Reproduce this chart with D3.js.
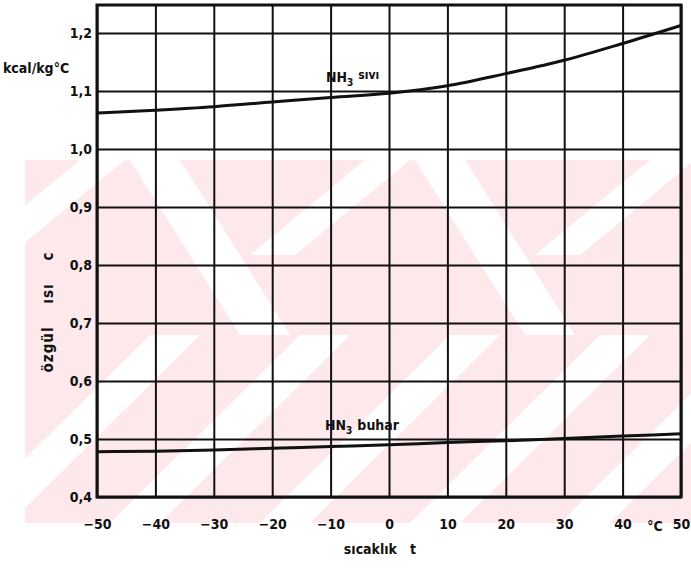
<!DOCTYPE html>
<html>
<head>
<meta charset="utf-8">
<script src="https://cdn.jsdelivr.net/npm/d3@7"></script>
<style>
  html, body { margin: 0; padding: 0; background: #fff; }
  svg { display: block; }
  text { font-family: "DejaVu Sans Condensed", "Liberation Sans Narrow", sans-serif; font-weight: bold; fill: #111; }
</style>
</head>
<body>
<div id="chart"></div>
<script>
// temperature (°C) and specific heat (kcal/kg°C)
const temps     = [-50, -40, -30, -20, -10, 0, 10, 20, 30, 40, 50]
const liquidCp  = [1.062, 1.067, 1.073, 1.081, 1.089, 1.096, 1.109, 1.130, 1.153, 1.182, 1.213]
const vaporCp   = [0.478, 0.479, 0.481, 0.484, 0.487, 0.490, 0.494, 0.497, 0.501, 0.505, 0.509]
const yTicks    = [0.4, 0.5, 0.6, 0.7, 0.8, 0.9, 1.0, 1.1, 1.2]
const xTicks    = [-50, -40, -30, -20, -10, 0, 10, 20, 30, 40, 50]

const WIDTH = 691, HEIGHT = 569
const PLOT = { left: 97, right: 681, top: 5, bottom: 497 }

const svg = d3.select('#chart').append('svg').attr('width', WIDTH).attr('height', HEIGHT)

// ── faint pink watermark behind the grid ──────────────────────────
const wm = svg.append('g').attr('class', 'watermark')
wm.append('clipPath').attr('id', 'wmclip')
  .append('rect').attr('x', 25).attr('y', 160).attr('width', 666).attr('height', 363)
const wmg = wm.append('g').attr('clip-path', 'url(#wmclip)')
wmg.append('rect').attr('x', 25).attr('y', 160).attr('width', 666).attr('height', 363).attr('fill', '#fde9ec')
// upper chevrons
;[[130, 160], [415, 160], [700, 160]].forEach(([x, y]) => {
  wmg.append('polygon').attr('fill', '#fff')
    .attr('points', `${x},${y} ${x + 50},${y} ${x + 160},${y + 175} ${x + 110},${y + 175}`)
  wmg.append('polygon').attr('fill', '#fff')
    .attr('points', `${x - 5},${y} ${x - 50},${y} ${x - 165},${y + 95} ${x - 120},${y + 95}`)
})
// lower diagonal stripes
;[150, 300, 450, 600, 750, 900].forEach(x => {
  wmg.append('polygon').attr('fill', '#fff')
    .attr('points', `${x},335 ${x + 50},335 ${x - 140},523 ${x - 190},523`)
})

const x = d3.scaleLinear().domain([-50, 50]).range([PLOT.left, PLOT.right])
const y = d3.scaleLinear().domain([0.4, 1.2]).range([PLOT.bottom, 33])
const W = PLOT.right - PLOT.left

// ── grid via axes ────────────────────────────────────────────────
const comma = d => d3.format('.1f')(d).replace('.', ',')

const gy = svg.append('g').attr('transform', `translate(${PLOT.left},0)`)
  .call(d3.axisLeft(y).tickValues(yTicks).tickSize(-W).tickPadding(5).tickFormat(comma))
gy.select('.domain').remove()
gy.selectAll('line').attr('stroke', '#111').attr('stroke-width', 2)
gy.selectAll('text').style('font-size', '14px').attr('fill', '#111')

const gx = svg.append('g').attr('transform', `translate(0,${PLOT.bottom})`)
  .call(d3.axisBottom(x).tickValues(xTicks).tickSize(-(PLOT.bottom - PLOT.top)).tickPadding(22))
gx.select('.domain').remove()
gx.selectAll('line').attr('stroke', '#111').attr('stroke-width', 2)
gx.selectAll('text').style('font-size', '14px').attr('fill', '#111')

// frame
svg.append('rect')
  .attr('x', PLOT.left).attr('y', PLOT.top)
  .attr('width', W).attr('height', PLOT.bottom - PLOT.top)
  .attr('fill', 'none').attr('stroke', '#111').attr('stroke-width', 3)

// ── curves ───────────────────────────────────────────────────────
const line = vals => d3.line()
  .x((d, i) => x(temps[i])).y(d => y(d))
  .curve(d3.curveMonotoneX)(vals)

svg.append('path').attr('d', line(liquidCp))
  .attr('fill', 'none').attr('stroke', '#111').attr('stroke-width', 3)
svg.append('path').attr('d', line(vaporCp))
  .attr('fill', 'none').attr('stroke', '#111').attr('stroke-width', 3)

// ── labels ───────────────────────────────────────────────────────
const lab1 = svg.append('text').attr('x', 326).attr('y', 82).style('font-size', '14px')
lab1.append('tspan').text('NH')
lab1.append('tspan').attr('dy', 4).style('font-size', '10px').text('3')
lab1.append('tspan').attr('dy', -7).attr('dx', 5).style('font-size', '12px').text('sıvı')

const lab2 = svg.append('text').attr('x', 325).attr('y', 430).style('font-size', '14px')
lab2.append('tspan').text('HN')
lab2.append('tspan').attr('dy', 4).style('font-size', '10px').text('3')
lab2.append('tspan').attr('dy', -4).attr('dx', 5).text('buhar')

svg.append('text').attr('x', 3).attr('y', 73).style('font-size', '14px').text('kcal/kg°C')

svg.append('text').attr('x', 655).attr('y', 531).attr('text-anchor', 'middle')
  .style('font-size', '14px').text('°C')

svg.append('text').attr('x', 380).attr('y', 554).attr('text-anchor', 'middle')
  .style('font-size', '14px').attr('xml:space', 'preserve').text('sıcaklık   t')

svg.append('text').attr('transform', 'translate(53,312) rotate(-90)')
  .attr('text-anchor', 'middle').style('font-size', '15px').style('letter-spacing', '1px')
  .attr('xml:space', 'preserve').text('özgül    ısı    c')
</script>
</body>
</html>
